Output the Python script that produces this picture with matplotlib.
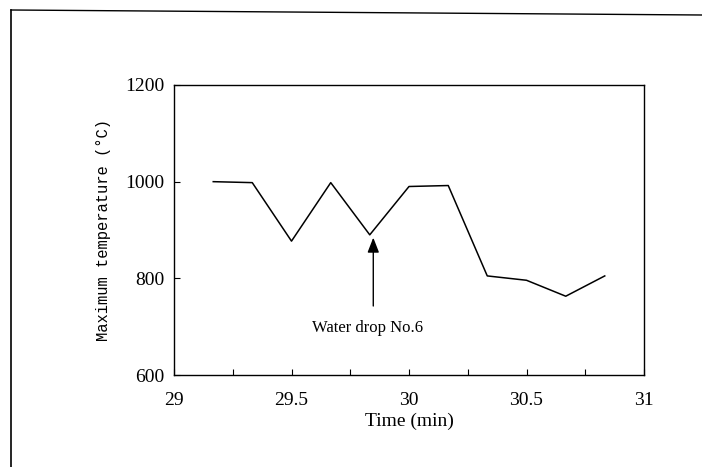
import matplotlib
matplotlib.use("Agg")
import matplotlib.pyplot as plt
from matplotlib.lines import Line2D
from matplotlib.ticker import MultipleLocator

# Data
time_min = [29.167, 29.333, 29.5, 29.667, 29.833, 30.0, 30.167, 30.333, 30.5, 30.667, 30.833]
max_temp = [1000, 998, 877, 998, 890, 990, 992, 805, 796, 763, 805]
x_ticks = [29, 29.5, 30, 30.5, 31]
x_tick_labels = ["29", "29.5", "30", "30.5", "31"]
y_ticks = [600, 800, 1000, 1200]
y_tick_labels = ["600", "800", "1000", "1200"]
annot_text = "Water drop No.6"
annot_xy = (29.848, 890)
annot_tail = (29.848, 737)
annot_text_xy = (29.825, 697)

fig = plt.figure(figsize=(7.02, 4.67), dpi=100)
ax = fig.add_axes([174/702, 1-375/467, (644-174)/702, (375-85)/467])

ax.plot(time_min, max_temp, color="black", lw=1.1)
ax.set_xlim(29, 31)
ax.set_ylim(600, 1200)
ax.set_xticks(x_ticks)
ax.set_xticklabels(x_tick_labels)
ax.set_yticks(y_ticks)
ax.set_yticklabels(y_tick_labels)
ax.xaxis.set_minor_locator(MultipleLocator(0.25))

serif = "Liberation Serif"
for lbl in ax.get_xticklabels() + ax.get_yticklabels():
    lbl.set_fontfamily(serif)
    lbl.set_fontsize(14)

ax.tick_params(axis="x", which="both", direction="in", length=4, width=0.8, pad=12)
ax.tick_params(axis="y", which="both", direction="in", length=4, width=0.8, pad=7)
for s in ax.spines.values():
    s.set_linewidth(1.0)

ax.set_xlabel("Time (min)", fontfamily=serif, fontsize=14, labelpad=3)
ax.set_ylabel("Maximum temperature (\u00b0C)", fontfamily="Liberation Mono", fontsize=11.2, labelpad=10)

ax.annotate("", xy=annot_xy, xytext=annot_tail,
            arrowprops=dict(arrowstyle="-|>,head_length=0.9,head_width=0.35", color="black", lw=1.0))
ax.text(annot_text_xy[0], annot_text_xy[1], annot_text, ha="center", va="center",
        fontfamily=serif, fontsize=12)

# outer scan frame
fig.add_artist(Line2D([11/702, 11/702], [0, 1-10/467], transform=fig.transFigure, color="black", lw=1.2))
fig.add_artist(Line2D([11/702, 1], [1-10/467, 1-15/467], transform=fig.transFigure, color="black", lw=1.0))

fig.savefig("out.png", dpi=100)
